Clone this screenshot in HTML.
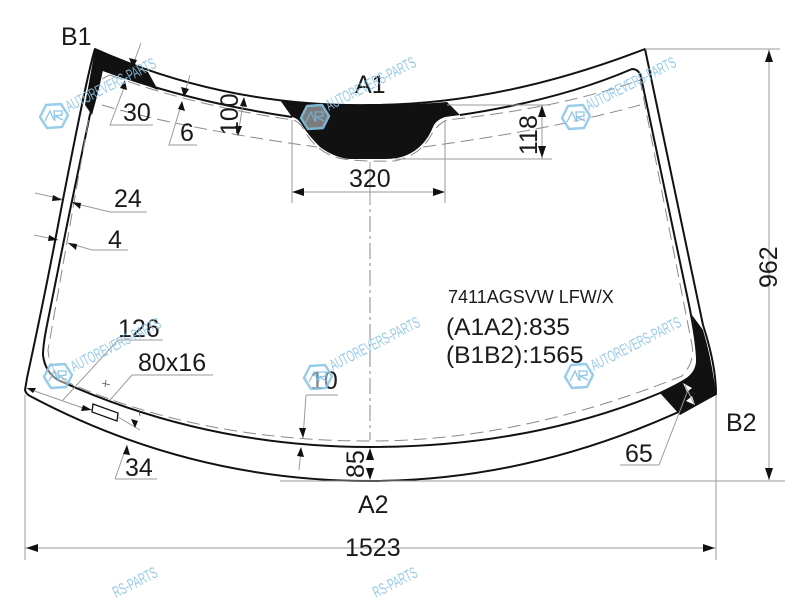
<!DOCTYPE html>
<html><head><meta charset="utf-8"><style>
html,body{margin:0;padding:0;background:#fff;width:800px;height:600px;overflow:hidden}
svg{display:block}
text{font-family:"Liberation Sans",sans-serif;fill:#1a1a1a}
.t{font-size:25px}
.g{stroke:#9a9a9a;stroke-width:1;fill:none}
.s{stroke:#111;stroke-width:2;fill:none;stroke-linejoin:round}
.d{stroke:#8a8a8a;stroke-width:1;fill:none;stroke-dasharray:13 6}
.w{font-size:16px;fill:#8cc4e6}
.a{fill:#111}
</style></head><body>
<svg width="800" height="600" viewBox="0 0 800 600" xmlns="http://www.w3.org/2000/svg">
<defs>
<g id="logo">
<path d="M-8,-11 L7,-12 L14,-1 L8,11 L-7,12 L-14,1 Z" fill="#fff" fill-opacity=".5" stroke="#8cc8e8" stroke-width="2.5" stroke-linejoin="round"/>
<path d="M-9,5 L-4,-5 L0,4 M1,5 L0,-5 L8,-5 L8,-1 L1,0 L9,4" fill="none" stroke="#7fbfe2" stroke-width="1.3"/>
</g>
</defs>

<!-- outlines -->
<path class="s" d="M95,49 Q88,70 60,215 Q46,290 27,378 L25,390 Q26,394 30,396 Q190,481 370,481 Q545,481 716,394 Q716,365 703,325 L645,49 Q500,105 370,105 Q225,107 95,49 Z"/>
<path class="s" d="M292,117 Q190,102 103,70 Q99,70 98,76 L68,220 L47,325 Q43,345 43,355 Q45,372 58,380 Q205,447 370,447 Q530,447 660,393 Q675,386 685,380 Q698,372 697,358 Q696,338 688,300 L641,77 Q639,69 632,69 Q560,100 460,115"/>
<path class="d" d="M110,75 Q190,105 293,120 Q300,122 304,130 Q315,150 335,157 Q350,162 395,161 Q420,155 430,137 Q437,124 447,120 Q560,108 640,80 L692,345 Q695,362 682,376 Q520,441 370,441 Q200,441 67,382 Q50,373 48,350 L92,100 Q95,80 110,75"/>
<path class="d" d="M102,105 Q180,128 317,147 M423,147 Q550,130 640,105"/>
<path d="M370,162 V440" fill="none" stroke="#8a8a8a" stroke-dasharray="16 4 3 4"/>

<!-- black print areas -->
<path class="a" d="M95,49 Q120,60 148,72 L158,90 Q130,78 103,70 Q99,90 92,115 L85,105 Z"/>
<path class="a" d="M280,100 Q365,109 447,102 L460,115 L445,117 Q436,120 433,127 Q425,147 407,155 Q398,159 385,159 L350,159 Q335,158 320,147 Q308,135 302,125 Q298,118 292,117 Z"/>
<path class="a" d="M692,315 L703,330 Q712,360 716,395 L680,415 L660,393 Q672,388 683,382 Q696,373 697,358 Q696,335 692,315 Z"/>

<!-- sticker -->
<path d="M93,404 L118,413 L117,421 L92,412 Z" fill="#fff" stroke="#111" stroke-width="1.3"/>

<!-- dimension lines -->
<path class="g" d="M645,49 H780 M769,49 V480 M280,481 H785 M716,395 V560 M25,395 V560 M25,548 H716"/>
<path class="g" d="M292,120 V203 M445,120 V203 M292,192 H445 M447,105 H550 M395,159 H552 M542,105 V159 M370,203 V162"/>
<path class="g" d="M141,43 L134,62 M125,85 L110,125 L153,125 M190,75 L185,92 M182,102 L169,145 L197,145 M244,98 L238,135"/>
<path class="g" d="M35,193 L62,199 M73,203 L110,212 L147,212 M34,235 L58,240 M68,243 L92,250 L128,250"/>
<path class="g" d="M63,400 L118,340 L163,340 M110,400 L132,375 L213,375 M26,388 L83,408 M118,417 L140,430 M115,479 L127,445 M115,479 L157,479"/>
<path class="g" d="M306,395 L303,438 M338,395 L306,395 M299,470 L301,450"/>
<path class="g" d="M688,390 L659,465 L620,465"/>

<!-- arrowheads -->
<path class="a" d="M133,68 L129,58 L137,60 Z M184,97 L181,87 L189,89 Z M125,80 L127,90 L120,88 Z M182,101 L185,111 L178,109 Z"/>
<path class="a" d="M244,97 L247,107 L240,106 Z M238,136 L235,126 L242,126 Z"/>
<path class="a" d="M62,200 L53,195 L52,201 Z M72,202 L81,203 L80,209 Z M58,240 L49,235 L48,241 Z M68,243 L77,244 L76,250 Z"/>
<path class="a" d="M27,388 L36,388 L33,393 Z M92,410 L83,405 L81,411 Z M135,428 L131,419 L138,421 Z M127,445 L123,454 L130,455 Z"/>
<path class="a" d="M303,438 L299,428 L306,428 Z M301,447 L297,456 L304,457 Z"/>
<path class="a" d="M370,448 L366,460 L374,460 Z M370,480 L366,468 L374,468 Z"/>
<path class="a" d="M292,192 L304,188 V196 Z M445,192 L433,188 V196 Z M542,105 L538,117 H546 Z M542,158 L538,146 H546 Z"/>
<path class="a" d="M769,50 L765,62 H773 Z M769,480 L765,468 H773 Z M26,548 L38,544 V552 Z M715,548 L703,544 V552 Z"/>
<path fill="#fff" d="M683,383 L692,388 L687,392 Z M695,405 L686,401 L692,396 Z"/>
<path stroke="#aaa" fill="none" d="M685,385 L694,404"/>
<path stroke="#555" fill="none" stroke-width=".8" d="M102,383 L110,385 M106,380 L105,387 M139,410 L140,416"/>

<!-- text -->
<text class="t" x="61" y="45">B1</text>
<text class="t" x="355" y="93">A1</text>
<text class="t" x="358" y="513">A2</text>
<text class="t" x="726" y="431">B2</text>
<text class="t" x="123" y="121">30</text>
<text class="t" x="180" y="141">6</text>
<text class="t" x="114" y="207">24</text>
<text class="t" x="108" y="248">4</text>
<text class="t" x="349" y="187">320</text>
<text class="t" x="118" y="337">126</text>
<text class="t" x="138" y="371">80x16</text>
<text class="t" x="125" y="476">34</text>
<text class="t" x="310" y="389">10</text>
<text class="t" x="625" y="462">65</text>
<text class="t" x="345" y="556">1523</text>
<text class="t" transform="translate(238,135) rotate(-90)">100</text>
<text class="t" transform="translate(537,155) rotate(-90)">118</text>
<text class="t" transform="translate(364,478) rotate(-90)">85</text>
<text class="t" transform="translate(777,288) rotate(-90)">962</text>
<text x="448" y="303" font-size="18">7411AGSVW LFW/X</text>
<text x="446" y="335" font-size="24.5">(A1A2):835</text>
<text x="446" y="363" font-size="24.5">(B1B2):1565</text>

<!-- watermarks -->
<g opacity=".9">
<use href="#logo" transform="translate(54,116)"/>
<text class="w" transform="translate(69,112) rotate(-27)" textLength="99" lengthAdjust="spacingAndGlyphs">AUTOREVERS-PARTS</text>
<use href="#logo" transform="translate(315,117)"/>
<text class="w" transform="translate(329,111) rotate(-27)" textLength="99" lengthAdjust="spacingAndGlyphs">AUTOREVERS-PARTS</text>
<use href="#logo" transform="translate(576,117)"/>
<text class="w" transform="translate(589,111) rotate(-27)" textLength="99" lengthAdjust="spacingAndGlyphs">AUTOREVERS-PARTS</text>
<use href="#logo" transform="translate(58,376)"/>
<text class="w" transform="translate(74,372) rotate(-27)" textLength="99" lengthAdjust="spacingAndGlyphs">AUTOREVERS-PARTS</text>
<use href="#logo" transform="translate(318,377)"/>
<text class="w" transform="translate(333,371) rotate(-27)" textLength="99" lengthAdjust="spacingAndGlyphs">AUTOREVERS-PARTS</text>
<use href="#logo" transform="translate(579,376)"/>
<text class="w" transform="translate(594,371) rotate(-27)" textLength="99" lengthAdjust="spacingAndGlyphs">AUTOREVERS-PARTS</text>
<text class="w" transform="translate(116,598) rotate(-27)" textLength="48" lengthAdjust="spacingAndGlyphs">RS-PARTS</text>
<text class="w" transform="translate(376,598) rotate(-27)" textLength="48" lengthAdjust="spacingAndGlyphs">RS-PARTS</text>
</g>
</svg>
</body></html>
